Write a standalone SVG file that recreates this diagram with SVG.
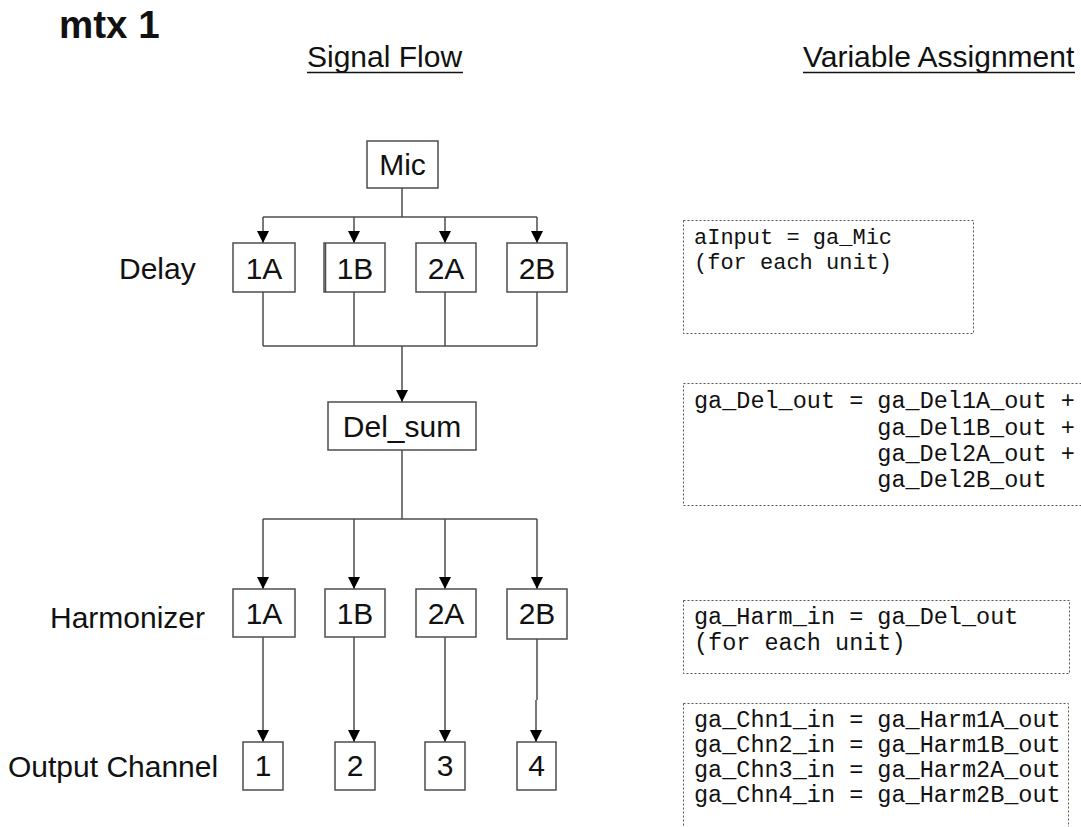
<svg xmlns="http://www.w3.org/2000/svg" width="1081" height="827" viewBox="0 0 1081 827">
<style>
.bg{fill:#fff}
.box{fill:#fff;stroke:#4d4d4d;stroke-width:1.5}
.lbl{font-family:"Liberation Sans",Arial,sans-serif;font-size:30px;fill:#111}
.mid{text-anchor:middle}
.title{font-family:"Liberation Sans",Arial,sans-serif;font-size:38.5px;font-weight:bold;fill:#111}
.ln{fill:none;stroke:#4d4d4d;stroke-width:1.5}
.arr{fill:none;stroke:#4d4d4d;stroke-width:1.5;marker-end:url(#ah)}
.note{fill:none;stroke:#555;stroke-width:1;stroke-dasharray:2 2}
.mono{font-family:"Liberation Mono","Courier New",monospace;font-size:23.5px;fill:#111}
.ul{stroke:#111;stroke-width:1.5}
</style>
<defs>
<marker id="ah" markerUnits="userSpaceOnUse" markerWidth="12" markerHeight="14" refX="12" refY="6" orient="auto" viewBox="0 0 12 12">
<path d="M0,0 L12,6 L0,12 Z" fill="#000"/>
</marker>
</defs>
<rect class="bg" x="0" y="0" width="1081" height="827"/>

<g id="headings">
<text class="title" x="59" y="38">mtx 1</text>
<text class="lbl" x="307" y="67">Signal Flow</text>
<line class="ul" x1="307" y1="72.5" x2="463" y2="72.5"/>
<text class="lbl" x="803" y="67">Variable Assignment</text>
<line class="ul" x1="803" y1="72.5" x2="1075" y2="72.5"/>
</g>

<g id="row-labels">
<text class="lbl" x="119" y="279">Delay</text>
<text class="lbl" x="50" y="628">Harmonizer</text>
<text class="lbl" x="8" y="777">Output Channel</text>
</g>

<g id="connectors">
<path class="ln" d="M402,188 V217 M263,217 H537"/>
<path class="arr" d="M263,217 V243"/>
<path class="arr" d="M354,217 V243"/>
<path class="arr" d="M445,217 V243"/>
<path class="arr" d="M537,217 V243"/>
<path class="ln" d="M263,292 V346 M354,292 V346 M445,292 V346 M537,292 V346 M263,346 H537"/>
<path class="arr" d="M402,346 V402"/>
<path class="ln" d="M402,450 V519 M263,519 H537"/>
<path class="arr" d="M263,519 V589"/>
<path class="arr" d="M354,519 V589"/>
<path class="arr" d="M445,519 V589"/>
<path class="arr" d="M537,519 V589"/>
<path class="arr" d="M263,637 V742"/>
<path class="arr" d="M354,637 V742"/>
<path class="arr" d="M445,637 V742"/>
<path class="ln" d="M537,639 V700"/>
<path class="arr" d="M536,700 V742"/>
</g>

<g id="mic"><rect class="box" x="367" y="141" width="71" height="47"/><text class="lbl mid" x="402.5" y="175">Mic</text></g>

<g id="delay-1A"><rect class="box" x="233" y="243" width="62" height="49"/><text class="lbl mid" x="264" y="279">1A</text></g>
<g id="delay-1B"><rect class="box" x="324" y="243" width="61" height="49"/><line class="ln" x1="325.5" y1="243" x2="325.5" y2="292"/><text class="lbl mid" x="355" y="279">1B</text></g>
<g id="delay-2A"><rect class="box" x="416" y="243" width="60" height="49"/><text class="lbl mid" x="446" y="279">2A</text></g>
<g id="delay-2B"><rect class="box" x="507" y="243" width="60" height="49"/><text class="lbl mid" x="537" y="279">2B</text></g>

<g id="del-sum"><rect class="box" x="328" y="402" width="148" height="48"/><text class="lbl mid" x="402" y="437">Del_sum</text></g>

<g id="harm-1A"><rect class="box" x="233" y="589" width="62" height="48"/><text class="lbl mid" x="264" y="624">1A</text></g>
<g id="harm-1B"><rect class="box" x="325" y="589" width="60" height="48"/><text class="lbl mid" x="355" y="624">1B</text></g>
<g id="harm-2A"><rect class="box" x="416" y="589" width="60" height="48"/><text class="lbl mid" x="446" y="624">2A</text></g>
<g id="harm-2B"><rect class="box" x="507" y="589" width="60" height="50"/><text class="lbl mid" x="537" y="624">2B</text></g>

<g id="out-1"><rect class="box" x="243" y="742" width="40" height="48"/><text class="lbl mid" x="263" y="776">1</text></g>
<g id="out-2"><rect class="box" x="335" y="742" width="40" height="48"/><text class="lbl mid" x="355" y="776">2</text></g>
<g id="out-3"><rect class="box" x="425" y="742" width="40" height="48"/><text class="lbl mid" x="445" y="776">3</text></g>
<g id="out-4"><rect class="box" x="517" y="742" width="39" height="48"/><text class="lbl mid" x="536.5" y="776">4</text></g>

<g id="note-mic">
<rect class="note" x="683.5" y="220.5" width="290" height="113"/>
<text class="mono" style="font-size:22px" x="694" y="244">aInput = ga_Mic</text>
<text class="mono" style="font-size:22px" x="694" y="269">(for each unit)</text>
</g>
<g id="note-delsum">
<rect class="note" x="683.5" y="383.5" width="420" height="122"/>
<text class="mono" x="694" y="408">ga_Del_out = ga_Del1A_out +</text>
<text class="mono" x="877.3" y="434.5">ga_Del1B_out +</text>
<text class="mono" x="877.3" y="461">ga_Del2A_out +</text>
<text class="mono" x="877.3" y="487">ga_Del2B_out</text>
</g>
<g id="note-harm">
<rect class="note" x="683.5" y="600.5" width="386" height="73"/>
<text class="mono" x="694" y="624">ga_Harm_in = ga_Del_out</text>
<text class="mono" x="694" y="650">(for each unit)</text>
</g>
<g id="note-out">
<rect class="note" x="683.5" y="703.5" width="385" height="150"/>
<text class="mono" x="694" y="727">ga_Chn1_in = ga_Harm1A_out</text>
<text class="mono" x="694" y="752">ga_Chn2_in = ga_Harm1B_out</text>
<text class="mono" x="694" y="777">ga_Chn3_in = ga_Harm2A_out</text>
<text class="mono" x="694" y="802">ga_Chn4_in = ga_Harm2B_out</text>
</g>
</svg>
